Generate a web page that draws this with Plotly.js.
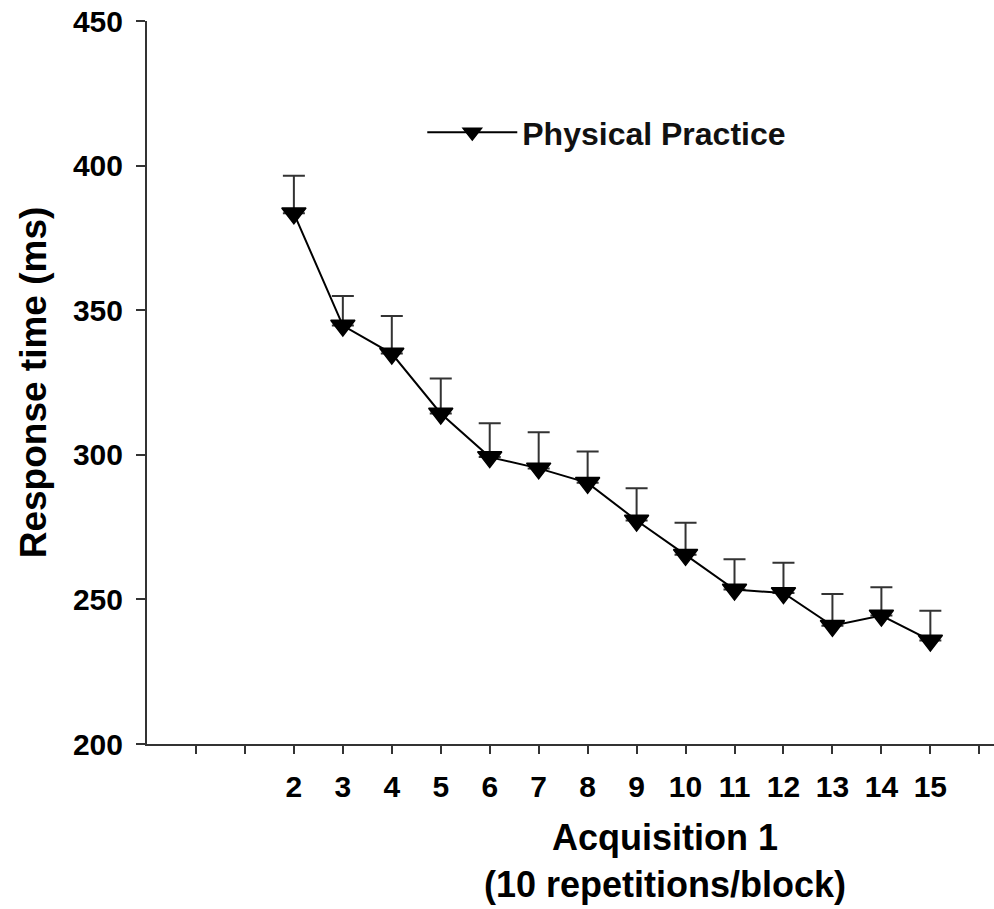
<!DOCTYPE html>
<html>
<head>
<meta charset="utf-8">
<script src="https://cdn.plot.ly/plotly-3.0.1.min.js"></script>
<style>
  html, body { margin: 0; padding: 0; background: #fff; }
  #chart { width: 994px; height: 909px; }
</style>
</head>
<body>
<div id="chart"></div>
<script>
// Blocks of Acquisition 1 (10 repetitions/block)
const blocks = [2, 3, 4, 5, 6, 7, 8, 9, 10, 11, 12, 13, 14, 15];
// Mean response time (ms)
const responseTime = [383.5, 344.7, 335, 314.3, 299.2, 295.3, 290.3, 277.3, 265.4, 253.4, 252.2, 240.9, 244.4, 235.8];
// Upper error (ms)
const errorUpper = [13, 10.2, 13, 12.1, 11.7, 12.5, 10.8, 11.1, 11.1, 10.5, 10.5, 11, 9.8, 10.3];
const errorLower = [0, 0, 0, 0, 0, 0, 0, 0, 0, 0, 0, 0, 0, 0];
// Axis ticks
const xTickVals = [0, 1, 2, 3, 4, 5, 6, 7, 8, 9, 10, 11, 12, 13, 14, 15, 16];
const xTickText = ['', '', '2', '3', '4', '5', '6', '7', '8', '9', '10', '11', '12', '13', '14', '15', ''];
const yTickVals = [200, 250, 300, 350, 400, 450];
const seriesName = 'Physical Practice';
const xTitleLines = ['Acquisition 1', '(10 repetitions/block)'];
const yTitle = 'Response time (ms)';

const FONT = 'Liberation Sans, Arial, Helvetica, sans-serif';

const trace = {
  x: blocks,
  y: responseTime,
  name: seriesName,
  type: 'scatter',
  mode: 'lines+markers',
  line: { color: '#000', width: 2 },
  marker: { symbol: 'triangle-down', size: 21, color: '#000', line: { color: '#000', width: 1.5 } },
  error_y: {
    type: 'data',
    symmetric: false,
    array: errorUpper,
    arrayminus: errorLower,
    color: '#333',
    thickness: 2,
    width: 11
  },
  showlegend: true
};

const layout = {
  width: 994,
  height: 909,
  margin: { l: 147, r: 0, t: 21, b: 165 },
  paper_bgcolor: '#fff',
  plot_bgcolor: '#fff',
  font: { family: FONT, color: '#000' },
  showlegend: true,
  legend: {
    x: 0.325, y: 0.846, xanchor: 'left', yanchor: 'middle',
    font: { family: FONT, size: 32, color: '#111', weight: 'bold' },
    bgcolor: 'rgba(0,0,0,0)',
    itemwidth: 90
  },
  xaxis: {
    range: [-1, 16.3],
    tickmode: 'array',
    tickvals: xTickVals,
    ticktext: xTickText,
    ticks: 'outside',
    ticklen: 8,
    tickwidth: 2,
    tickcolor: '#333',
    showline: true,
    linecolor: '#333',
    linewidth: 2,
    showgrid: false,
    zeroline: false,
    tickfont: { family: FONT, size: 30, color: '#000', weight: 'bold' },
    ticklabelstandoff: 7
  },
  yaxis: {
    range: [200, 450],
    tickmode: 'array',
    tickvals: yTickVals,
    ticks: 'outside',
    ticklen: 9,
    tickwidth: 2,
    tickcolor: '#333',
    showline: true,
    linecolor: '#333',
    linewidth: 2,
    showgrid: false,
    zeroline: false,
    tickfont: { family: FONT, size: 30, color: '#000', weight: 'bold' },
    ticklabelstandoff: 7,
    title: { text: yTitle, font: { family: FONT, size: 37, color: '#000', weight: 'bold' }, standoff: 15 }
  },
  annotations: [
    {
      text: xTitleLines.join('<br>'),
      xref: 'paper', yref: 'paper',
      x: 0.611, y: -0.162,
      xanchor: 'center', yanchor: 'middle',
      align: 'center',
      showarrow: false,
      font: { family: FONT, size: 36, color: '#000', weight: 'bold' }
    }
  ]
};

Plotly.newPlot('chart', [trace], layout, { displayModeBar: false, staticPlot: true });
</script>
</body>
</html>
